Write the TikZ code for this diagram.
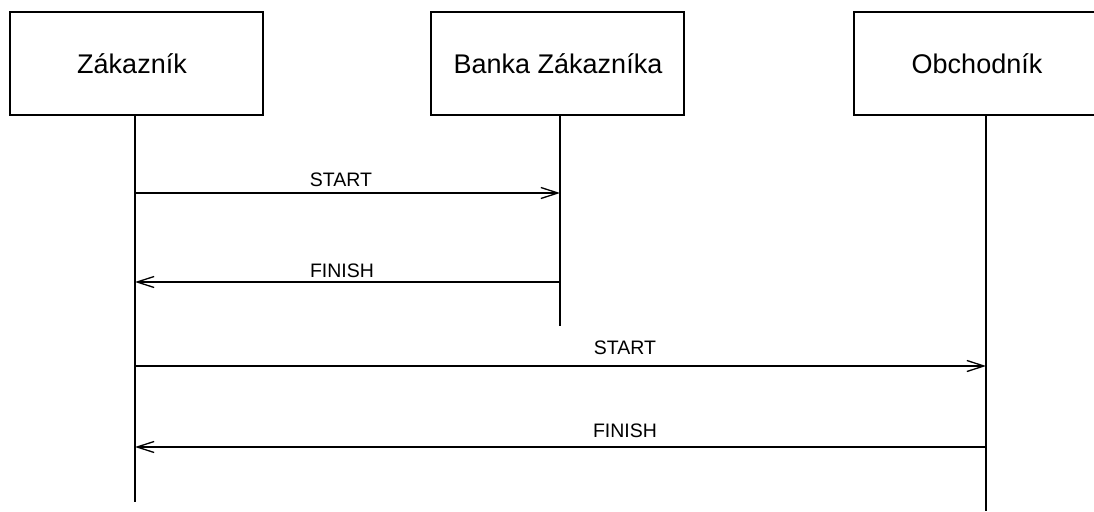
\documentclass[tikz,border=0pt]{standalone}
\usepackage{fontspec}
\setmainfont{Liberation Sans}
\usetikzlibrary{arrows.meta}
\tikzset{
  actor/.style={draw, line width=1.4pt, minimum width=253pt, minimum height=103pt, inner sep=0pt, fill=white},
  actortext/.style={font=\fontsize{27pt}{30pt}\selectfont, inner sep=0pt},
  life/.style={line width=1.3pt},
  msg/.style={line width=1.3pt, -{Straight Barb[length=17pt,width=11pt]}},
  msglabel/.style={font=\fontsize{19.5pt}{22pt}\selectfont, inner sep=0pt, anchor=base}
}
\begin{document}
\begin{tikzpicture}[x=1pt,y=-1pt]
\useasboundingbox (0,0) rectangle (1094,511);
\clip (0,0) rectangle (1094,511);
\fill[white] (0,0) rectangle (1094,511);
% actor boxes
\node[actor] (zak) at (136.5,63.5) {};
\node[actortext] (zakt) at (132,64) {Zákazník};
\node[actor] (banka) at (557.5,63.5) {};
\node[actortext] (bankat) at (558,64) {Banka Zákazníka};
\node[actor] (obch) at (980.5,63.5) {};
\node[actortext] (obcht) at (977,64) {Obchodník};
% lifelines
\coordinate (zTop) at (135,115);
\coordinate (zBot) at (135,502);
\coordinate (bTop) at (560,115);
\coordinate (bBot) at (560,326);
\coordinate (oTop) at (986,115);
\coordinate (oBot) at (986,511);
\draw[life] (zTop) -- (zBot);
\draw[life] (bTop) -- (bBot);
\draw[life] (oTop) -- (oBot);
% message end points
\coordinate (m1a) at (135,193);
\coordinate (m1b) at (560,193);
\coordinate (m2a) at (560,282);
\coordinate (m2b) at (135,282);
\coordinate (m3a) at (135,366);
\coordinate (m3b) at (986,366);
\coordinate (m4a) at (986,447);
\coordinate (m4b) at (135,447);
\draw[msg] (m1a) -- (m1b);
\draw[msg] (m2a) -- (m2b);
\draw[msg] (m3a) -- (m3b);
\draw[msg] (m4a) -- (m4b);
% labels
\node[msglabel] (l1) at (341,186) {START};
\node[msglabel] (l2) at (342,277) {FINISH};
\node[msglabel] (l3) at (625,354) {START};
\node[msglabel] (l4) at (625,437) {FINISH};
\end{tikzpicture}
\end{document}
